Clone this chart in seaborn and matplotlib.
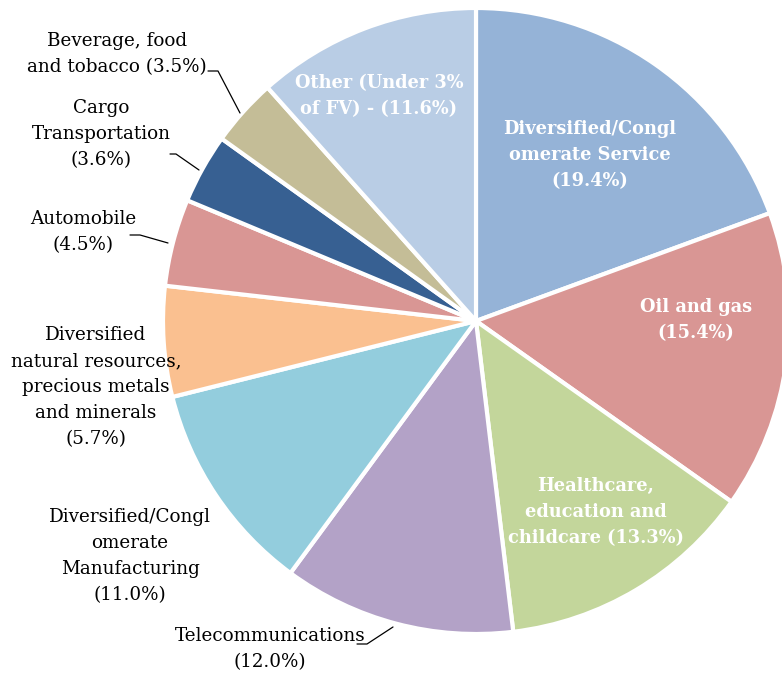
import matplotlib
matplotlib.use("Agg")
import matplotlib.pyplot as plt
import seaborn as sns

# ---- data ----
categories = [
    "Diversified/Conglomerate Service",
    "Oil and gas",
    "Healthcare, education and childcare",
    "Telecommunications",
    "Diversified/Conglomerate Manufacturing",
    "Diversified natural resources, precious metals and minerals",
    "Automobile",
    "Cargo Transportation",
    "Beverage, food and tobacco",
    "Other (Under 3% of FV)",
]
values = [19.4, 15.4, 13.3, 12.0, 11.0, 5.7, 4.5, 3.6, 3.5, 11.6]
label_texts = [
    "Diversified/Congl\nomerate Service\n(19.4%)",
    "Oil and gas\n(15.4%)",
    "Healthcare,\neducation and\nchildcare (13.3%)",
    "Telecommunications\n(12.0%)",
    "Diversified/Congl\nomerate\nManufacturing\n(11.0%)",
    "Diversified\nnatural resources,\nprecious metals\nand minerals\n(5.7%)",
    "Automobile\n(4.5%)",
    "Cargo\nTransportation\n(3.6%)",
    "Beverage, food\nand tobacco (3.5%)",
    "Other (Under 3%\nof FV) - (11.6%)",
]
colors = ["#95B3D7", "#D99694", "#C3D69B", "#B3A2C7", "#93CDDD",
          "#FAC090", "#D99694", "#376092", "#C4BD97", "#B9CDE5"]

sns.set_theme(style="white")
plt.rcParams["font.family"] = ["DejaVu Serif"]

W, H = 782, 678
fig = plt.figure(figsize=(W / 100, H / 100), dpi=100)
ax = fig.add_axes([0, 0, 1, 1])


def px(x, y):
    return (x, H - y)


cx, cy = px(476, 321)
ax.pie(values, colors=sns.color_palette(colors), startangle=90, counterclock=False,
       center=(cx, cy), radius=313, frame=True,
       wedgeprops=dict(edgecolor="white", linewidth=3))
ax.set_xlim(0, W)
ax.set_ylim(0, H)
ax.set_aspect("equal")
ax.axis("off")

fs = 13.2
ls = 1.58
fs_in = 12.8
ls_in = 1.56
# inside labels (white bold)
inside_pos = {0: (590, 155), 1: (696, 320), 2: (596, 512), 9: (379, 96)}
for i, (x, y) in inside_pos.items():
    ax.text(*px(x, y), label_texts[i], ha="center", va="center", color="white",
            fontsize=fs_in, fontweight="bold", linespacing=ls_in)

# outside labels (black)
outside_pos = {3: (270, 649), 4: (130, 556), 5: (96, 387), 6: (83, 232),
               7: (101, 134), 8: (117, 54)}
for i, (x, y) in outside_pos.items():
    ax.text(*px(x, y), label_texts[i], ha="center", va="center", color="black",
            fontsize=fs, linespacing=ls)

# leader lines
leaders = [
    [(208, 71), (218, 71), (240, 113)],
    [(170, 154), (176, 154), (199, 170)],
    [(130, 235), (140, 235), (168, 243)],
    [(357, 644), (367, 644), (393, 627)],
]
for pts in leaders:
    xs = [p[0] for p in pts]
    ys = [H - p[1] for p in pts]
    ax.plot(xs, ys, color="black", linewidth=0.9)

fig.savefig("out.png", dpi=100)
